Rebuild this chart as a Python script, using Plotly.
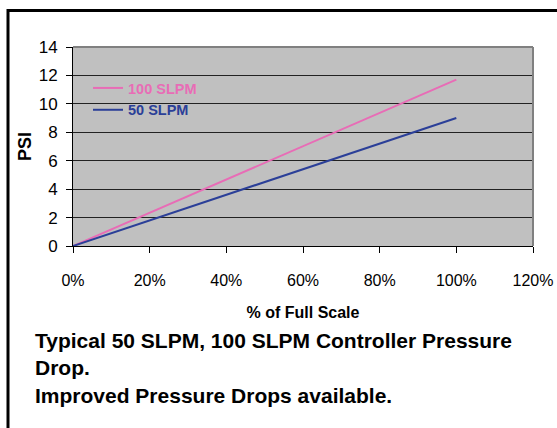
import plotly.graph_objects as go

# Data
pct_full_scale = [0.0, 0.2, 0.4, 0.6, 0.8, 1.0]
psi_100_slpm = [0.0, 2.35, 4.7, 7.0, 9.35, 11.7]
psi_50_slpm = [0.0, 1.8, 3.6, 5.4, 7.2, 9.0]
series_names = ["100 SLPM", "50 SLPM"]
series_colors = ["#E86CB6", "#2B3F98"]
x_ticks = [0.0, 0.2, 0.4, 0.6, 0.8, 1.0, 1.2]
y_ticks = [0, 2, 4, 6, 8, 10, 12, 14]
caption = "Typical 50 SLPM, 100 SLPM Controller Pressure<br>Drop.<br>Improved Pressure Drops available."

W, H = 557, 428
L, R, T, B = 73, 24, 47, 182
pw, ph = W - L - R, H - T - B

def px_x(px):
    return (px - L) / pw

def px_y(py):
    return (H - B - py) / ph

arial = "Arial, Liberation Sans, sans-serif"

fig = go.Figure()
for name, ys, col in zip(series_names, [psi_100_slpm, psi_50_slpm], series_colors):
    fig.add_trace(go.Scatter(
        x=pct_full_scale, y=ys, mode="lines",
        name=f"<span style='color:{col}'><b>{name}</b></span>",
        line=dict(color=col, width=2),
    ))

fig.update_layout(
    width=W, height=H, autosize=False,
    margin=dict(l=L, r=R, t=T, b=B),
    paper_bgcolor="white",
    plot_bgcolor="#C0C0C0",
    showlegend=True,
    legend=dict(
        x=px_x(88), y=px_y(72), xanchor="left", yanchor="top",
        bgcolor="rgba(0,0,0,0)", borderwidth=0,
        font=dict(family=arial, size=14.5),
        tracegroupgap=0,
    ),
    xaxis=dict(
        range=[0, 1.2], tickvals=x_ticks, tickformat=".0%",
        showgrid=False, zeroline=False,
        showline=True, linecolor="black", linewidth=1,
        ticks="outside", ticklen=6, tickcolor="black",
        tickfont=dict(family=arial, size=16, color="black"),
        ticklabelstandoff=14,
        title=dict(text="<b>% of Full Scale</b>", font=dict(family=arial, size=16, color="black"), standoff=18),
        automargin=False,
    ),
    yaxis=dict(
        range=[0, 14], tickvals=y_ticks,
        showgrid=True, gridcolor="#222222", gridwidth=1,
        zeroline=False,
        showline=True, linecolor="black", linewidth=1,
        ticks="outside", ticklen=6, tickcolor="black",
        tickfont=dict(family=arial, size=17, color="black"),
        ticklabelstandoff=5,
        title=dict(text="<b>PSI</b>", font=dict(family=arial, size=18, color="black"), standoff=2),
        automargin=False,
    ),
    shapes=[
        dict(type="line", xref="paper", yref="paper", x0=0, x1=1, y0=1, y1=1,
             line=dict(color="#808080", width=2), layer="above"),
        dict(type="line", xref="paper", yref="paper", x0=1, x1=1, y0=0, y1=1,
             line=dict(color="#808080", width=2), layer="above"),
        dict(type="rect", xref="paper", yref="paper",
             x0=px_x(8), x1=px_x(570), y0=px_y(10.5), y1=px_y(440),
             line=dict(color="black", width=3), layer="above"),
    ],
    annotations=[
        dict(text=f"<b>{caption}</b>", xref="paper", yref="paper",
             x=px_x(33), y=px_y(327), xanchor="left", yanchor="top",
             align="left", showarrow=False,
             font=dict(family=arial, size=21, color="black")),
    ],
)

fig.write_html("out.html")
